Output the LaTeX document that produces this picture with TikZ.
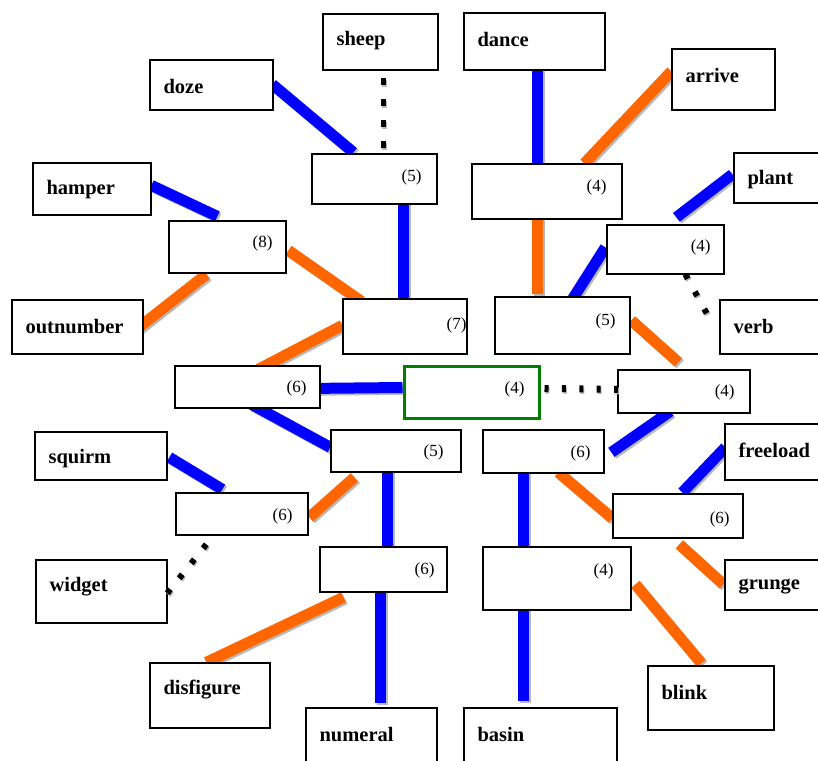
\documentclass[tikz,border=0pt]{standalone}
\usepackage{fontspec}
\setmainfont{Liberation Serif}
\usetikzlibrary{calc}
\pgfdeclarelayer{background}
\pgfsetlayers{background,main}
\definecolor{cblue}{RGB}{0,0,255}
\definecolor{corange}{RGB}{255,102,0}
\definecolor{cgreen}{RGB}{0,128,0}
\tikzset{
  box/.style={draw=black, line width=1.3pt, fill=white, inner sep=0pt},
  wtext/.style={font=\bfseries\fontsize{20.5}{24}\selectfont, inner sep=0pt},
  ntext/.style={font=\fontsize{17}{20}\selectfont, inner sep=0pt},
  bluelink/.style={draw=cblue, line width=11pt},
  orangelink/.style={draw=corange, line width=11pt},
  shadowlink/.style={draw=gray!55, line width=11pt, transform canvas={shift={(1.8pt,-1.8pt)}}},
  dotlink/.style={draw=black, line width=#1},
  dotshadow/.style={draw=gray!55, line width=#1, transform canvas={shift={(1pt,-1.5pt)}}}
}
\newcommand\wbox[6]{%
  \node[box, minimum width={#4-#2}, minimum height={#5-#3}] (#1) at ({(#2+#4)/2},{(#3+#5)/2}) {};
  \node[wtext, anchor=west] (#1t) at ($(#1.north west)+(14,27)$) {#6};}
\newcommand\nbox[8]{%
  \node[box, minimum width={#4-#2}, minimum height={#5-#3}] (#1) at ({(#2+#4)/2},{(#3+#5)/2}) {};
  \node[ntext] (#1t) at ($(#1.north east)+(#7,#8+2)$) {(#6)};}
% link: style, from, to
\newcommand\lnk[3]{%
  \draw[shadowlink] #2 -- #3;
  \draw[#1] #2 -- #3;}
% dotted link: width, dash pattern, from, to
\newcommand\dlnk[4]{%
  \draw[dotshadow=#1, dash pattern=#2] #3 -- #4;
  \draw[dotlink=#1, dash pattern=#2] #3 -- #4;}
\begin{document}
\begin{tikzpicture}[x=1pt,y=-1pt]
\useasboundingbox (0,0) rectangle (818,760);
\clip (0,0) rectangle (818,760);
% word boxes
\wbox{sheep}{323}{14}{438}{70}{sheep}
\wbox{dance}{464}{13}{605}{70}{dance}
\wbox{doze}{150}{60}{273}{110}{doze}
\wbox{arrive}{672}{49}{775}{110}{arrive}
\wbox{hamper}{33}{163}{151}{215}{hamper}
\wbox{plant}{734}{153}{830}{203}{plant}
\wbox{outnumber}{12}{300}{143}{354}{outnumber}
\wbox{verb}{720}{300}{830}{354}{verb}
\wbox{squirm}{35}{432}{167}{480}{squirm}
\wbox{freeload}{725}{424}{830}{480}{freeload}
\wbox{widget}{36}{560}{167}{623}{widget}
\wbox{grunge}{725}{560}{830}{610}{grunge}
\wbox{disfigure}{150}{663}{270}{728}{disfigure}
\wbox{blink}{648}{666}{774}{730}{blink}
\wbox{numeral}{306}{708}{437}{775}{numeral}
\wbox{basin}{464}{708}{617}{775}{basin}
% number boxes
\nbox{nA}{312}{154}{437}{204}{5}{-26}{22}
\nbox{nB}{472}{164}{622}{219}{4}{-26}{22}
\nbox{nC}{169}{221}{286}{273}{8}{-24}{21}
\nbox{nD}{607}{225}{724}{274}{4}{-24}{21}
\nbox{nE}{343}{299}{467}{354}{7}{-11}{25}
\nbox{nF}{495}{297}{630}{354}{5}{-25}{23}
\nbox{nG}{175}{366}{320}{408}{6}{-24}{21}
\nbox{nH}{618}{370}{750}{413}{4}{-26}{21}
\nbox{nI}{331}{430}{461}{472}{5}{-28}{21}
\nbox{nJ}{483}{430}{604}{473}{6}{-24}{22}
\nbox{nK}{176}{493}{308}{535}{6}{-26}{22}
\nbox{nL}{613}{494}{743}{538}{6}{-24}{24}
\nbox{nM}{320}{547}{447}{592}{6}{-23}{22}
\nbox{nN}{483}{547}{631}{610}{4}{-28}{23}
\node[box, draw=cgreen, line width=3pt, minimum width=135, minimum height=52] (center) at (471.5,392) {};
\node[ntext] (centert) at ($(center.north east)+(-26,25)$) {(4)};
\begin{pgfonlayer}{background}
% blue connectors
\lnk{bluelink}{($(doze.north west)+(123,25)$)}{($(nA.north west)+(42,-1)$)}
\lnk{bluelink}{($(nA.north west)+(92,50)$)}{($(nE.north west)+(61,0)$)}
\lnk{bluelink}{($(dance.north west)+(74,57)$)}{($(nB.north west)+(66,0)$)}
\lnk{bluelink}{($(plant.north west)+(-1,22)$)}{($(nD.north west)+(70,-7)$)}
\lnk{bluelink}{($(nD.north west)+(-1,23)$)}{($(nF.north west)+(78,3)$)}
\lnk{bluelink}{($(hamper.north west)+(119,23)$)}{($(nC.north west)+(49,-4)$)}
\lnk{bluelink}{($(nG.north west)+(145,23)$)}{($(center.north west)+(0,23)$)}
\lnk{bluelink}{($(nG.north west)+(77,39)$)}{($(nI.north west)+(0,18)$)}
\lnk{bluelink}{($(squirm.north west)+(135,26)$)}{($(nK.north west)+(47,-3)$)}
\lnk{bluelink}{($(nI.north west)+(57,42)$)}{($(nM.north west)+(68,0)$)}
\lnk{bluelink}{($(nM.north west)+(61,45)$)}{($(numeral.north west)+(75,-4)$)}
\lnk{bluelink}{($(nH.north west)+(53,42)$)}{($(nJ.north west)+(129,23)$)}
\lnk{bluelink}{($(freeload.north west)+(1,24)$)}{($(nL.north west)+(70,-1)$)}
\lnk{bluelink}{($(nJ.north west)+(41,43)$)}{($(nN.north west)+(41,0)$)}
\lnk{bluelink}{($(nN.north west)+(41,63)$)}{($(basin.north west)+(60,-6)$)}
% orange connectors
\lnk{orangelink}{($(arrive.north west)+(0,23)$)}{($(nB.north west)+(113,0)$)}
\lnk{orangelink}{($(nB.north west)+(66,55)$)}{($(nF.north west)+(43,-2)$)}
\lnk{orangelink}{($(nC.north west)+(120,30)$)}{($(nE.north west)+(19,3)$)}
\lnk{orangelink}{($(outnumber.north west)+(125,30)$)}{($(nC.north west)+(38,54)$)}
\lnk{orangelink}{($(nE.north west)+(0,27)$)}{($(nG.north west)+(84,4)$)}
\lnk{orangelink}{($(nF.north west)+(137,24)$)}{($(nH.north west)+(61,-7)$)}
\lnk{orangelink}{($(nI.north west)+(24,48)$)}{($(nK.north west)+(134,25)$)}
\lnk{orangelink}{($(nJ.north west)+(76,43)$)}{($(nL.north west)+(0,25)$)}
\lnk{orangelink}{($(nN.north west)+(153,38)$)}{($(blink.north west)+(54,-2)$)}
\lnk{orangelink}{($(nL.north west)+(67,51)$)}{($(grunge.north west)+(-1,25)$)}
\lnk{orangelink}{($(nM.north west)+(24,51)$)}{($(disfigure.north west)+(57,0)$)}
\end{pgfonlayer}
% dotted connectors
\dlnk{5pt}{on 7pt off 14pt}{($(sheep.north west)+(61,65)$)}{($(nA.north west)+(72,-3)$)}
\dlnk{7pt}{on 4pt off 13.4pt}{($(center.north west)+(142,24)$)}{($(nH.north west)+(1,20)$)}
\dlnk{6pt}{on 5pt off 14.7pt}{($(nD.north west)+(79,50)$)}{($(verb.north west)+(-11,17)$)}
\dlnk{6pt}{on 5pt off 14.2pt}{($(nK.north west)+(31,52)$)}{($(widget.north west)+(131,35)$)}
\end{tikzpicture}
\end{document}
